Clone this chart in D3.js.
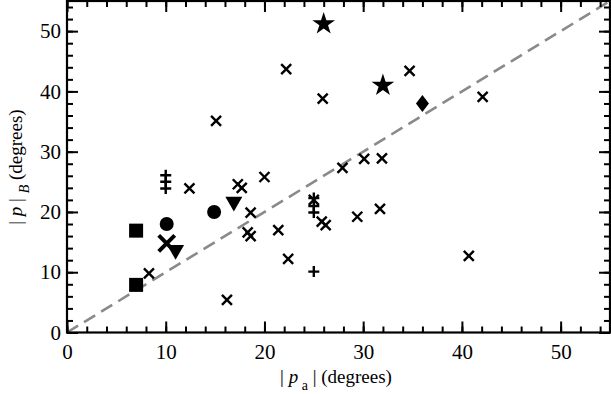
<!DOCTYPE html>
<html lang="en">
  <head>
    <meta charset="UTF-8" />
    <title>p_a vs p_B</title>
    <style>
      body { margin: 0; background: #fff; }
      svg text { font-family: "Liberation Serif", "DejaVu Serif", serif !important; }
    </style>
  </head>
  <body>
    <script src="https://d3js.org/d3.v7.min.js"></script>
    <script>
      // data: [|p_a|, |p|_B] in degrees
      const crossPoints = [
        [8.3, 9.8], [12.4, 23.9], [15.1, 35.1], [17.3, 24.6], [17.7, 24.0],
        [18.6, 19.9], [18.3, 16.6], [18.6, 16.0], [20.0, 25.8], [16.2, 5.4],
        [21.4, 17.0], [22.4, 12.2], [22.2, 43.7], [25.9, 38.8], [25.8, 18.4],
        [26.2, 17.8], [27.9, 27.3], [30.1, 28.8], [31.9, 28.9], [29.4, 19.2],
        [31.7, 20.5], [34.7, 43.4], [42.1, 39.1], [40.7, 12.7], [25.0, 22.0]
      ];
      const plusPoints = [
        [10, 26.1], [10, 25.0], [10, 23.9], [25, 22.3], [25, 21.0], [25, 19.9], [25, 10.1]
      ];
      const squarePoints = [[7, 16.9], [7, 7.9]];
      const circlePoints = [[10.1, 18.0], [14.9, 20.0]];
      const bigCrossPoints = [[10.1, 14.8]];
      const trianglePoints = [[11.0, 13.7], [16.9, 21.7]];
      const starPoints = [[26.0, 51.2], [32.0, 41.0]];
      const diamondPoints = [[36.0, 38.0]];

      const majorTicks = [0, 10, 20, 30, 40, 50];
      const minorTicks = d3.range(0, 55, 2);

      const W = 611, H = 394;
      const margin = { top: 1, right: 1, bottom: 61.5, left: 67 };
      const width = W - margin.left - margin.right;
      const height = H - margin.top - margin.bottom;
      const serif = '"Liberation Serif", "DejaVu Serif", serif';

      const svg = d3.select("body").append("svg")
        .attr("width", W)
        .attr("height", H);

      const x = d3.scaleLinear().domain([0, 55]).range([0, width]);
      const y = d3.scaleLinear().domain([0, 55]).range([height, 0]);

      const chart = svg.append("g")
        .attr("transform", `translate(${margin.left},${margin.top})`);

      // diagonal y = x
      chart.append("line")
        .attr("x1", x(0)).attr("y1", y(0))
        .attr("x2", x(55)).attr("y2", y(55))
        .attr("stroke", "#8a8a8a")
        .attr("stroke-width", 2.6)
        .attr("stroke-dasharray", "13,7");

      // axes, ticks pointing inward on all four sides
      function styleAxis(g) {
        g.attr("font-family", serif);
        g.select(".domain").remove();
        g.selectAll(".tick line").attr("stroke", "#000").attr("stroke-width", 2);
        g.selectAll("text")
          .attr("fill", "#000")
          .attr("font-family", serif)
          .style("font-size", "21px");
      }
      const none = () => "";

      chart.append("g").attr("transform", `translate(0,${height})`)
        .call(d3.axisBottom(x).tickValues(majorTicks).tickSize(-11).tickPadding(12).tickFormat(d3.format("d")))
        .call(styleAxis);
      chart.append("g").attr("transform", `translate(0,${height})`)
        .call(d3.axisBottom(x).tickValues(minorTicks).tickSize(-6).tickFormat(none))
        .call(styleAxis);
      chart.append("g")
        .call(d3.axisTop(x).tickValues(majorTicks).tickSize(-11).tickFormat(none))
        .call(styleAxis);
      chart.append("g")
        .call(d3.axisTop(x).tickValues(minorTicks).tickSize(-6).tickFormat(none))
        .call(styleAxis);

      chart.append("g")
        .call(d3.axisLeft(y).tickValues(majorTicks).tickSize(-11).tickPadding(6).tickFormat(d3.format("d")))
        .call(styleAxis);
      chart.append("g")
        .call(d3.axisLeft(y).tickValues(minorTicks).tickSize(-6).tickFormat(none))
        .call(styleAxis);
      chart.append("g").attr("transform", `translate(${width},0)`)
        .call(d3.axisRight(y).tickValues(majorTicks).tickSize(-11).tickFormat(none))
        .call(styleAxis);
      chart.append("g").attr("transform", `translate(${width},0)`)
        .call(d3.axisRight(y).tickValues(minorTicks).tickSize(-6).tickFormat(none))
        .call(styleAxis);

      // frame
      chart.append("rect")
        .attr("width", width).attr("height", height)
        .attr("fill", "none").attr("stroke", "#000").attr("stroke-width", 2.2);

      // markers
      const pos = (d) => `translate(${x(d[0])},${y(d[1])})`;

      function crossPath(s) {
        return `M${-s},${-s}L${s},${s}M${-s},${s}L${s},${-s}`;
      }
      function plusPath(s) {
        return `M${-s},0L${s},0M0,${-s}L0,${s}`;
      }

      chart.append("g").selectAll("path").data(crossPoints).join("path")
        .attr("transform", pos).attr("d", crossPath(5))
        .attr("stroke", "#000").attr("stroke-width", 2.4).attr("fill", "none");

      chart.append("g").selectAll("path").data(plusPoints).join("path")
        .attr("transform", pos).attr("d", plusPath(5.5))
        .attr("stroke", "#000").attr("stroke-width", 2.4).attr("fill", "none");

      chart.append("g").selectAll("path").data(bigCrossPoints).join("path")
        .attr("transform", pos).attr("d", crossPath(8))
        .attr("stroke", "#000").attr("stroke-width", 4).attr("fill", "none");

      chart.append("g").selectAll("rect").data(squarePoints).join("rect")
        .attr("x", (d) => x(d[0]) - 7).attr("y", (d) => y(d[1]) - 7)
        .attr("width", 14).attr("height", 14).attr("fill", "#000");

      chart.append("g").selectAll("circle").data(circlePoints).join("circle")
        .attr("cx", (d) => x(d[0])).attr("cy", (d) => y(d[1]))
        .attr("r", 7).attr("fill", "#000");

      chart.append("g").selectAll("path").data(trianglePoints).join("path")
        .attr("transform", (d) => pos(d) + " rotate(180)")
        .attr("d", d3.symbol(d3.symbolTriangle, 125))
        .attr("fill", "#000");

      chart.append("g").selectAll("path").data(starPoints).join("path")
        .attr("transform", pos)
        .attr("d", d3.symbol(d3.symbolStar, 160))
        .attr("fill", "#000");

      chart.append("g").selectAll("path").data(diamondPoints).join("path")
        .attr("transform", pos)
        .attr("d", "M0,-8.5L6.5,0L0,8.5L-6.5,0Z")
        .attr("fill", "#000");

      // axis labels
      const xl = svg.append("text")
        .attr("x", 336).attr("y", 383)
        .attr("text-anchor", "middle")
        .attr("font-family", serif)
        .style("font-size", "19px");
      xl.append("tspan").text("| ");
      xl.append("tspan").style("font-style", "italic").text("p");
      xl.append("tspan").attr("dy", 7).style("font-size", "14px").text(" a");
      xl.append("tspan").attr("dy", -7).text(" | (degrees)");

      const yl = svg.append("text")
        .attr("transform", "translate(22,167) rotate(-90)")
        .attr("text-anchor", "middle")
        .attr("font-family", serif)
        .style("font-size", "19px");
      yl.append("tspan").text("| ");
      yl.append("tspan").style("font-style", "italic").text("p");
      yl.append("tspan").text(" | ");
      yl.append("tspan").attr("dy", 7).style("font-size", "14px").style("font-style", "italic").text("B");
      yl.append("tspan").attr("dy", -7).text(" (degrees)");
    </script>
  </body>
</html>
